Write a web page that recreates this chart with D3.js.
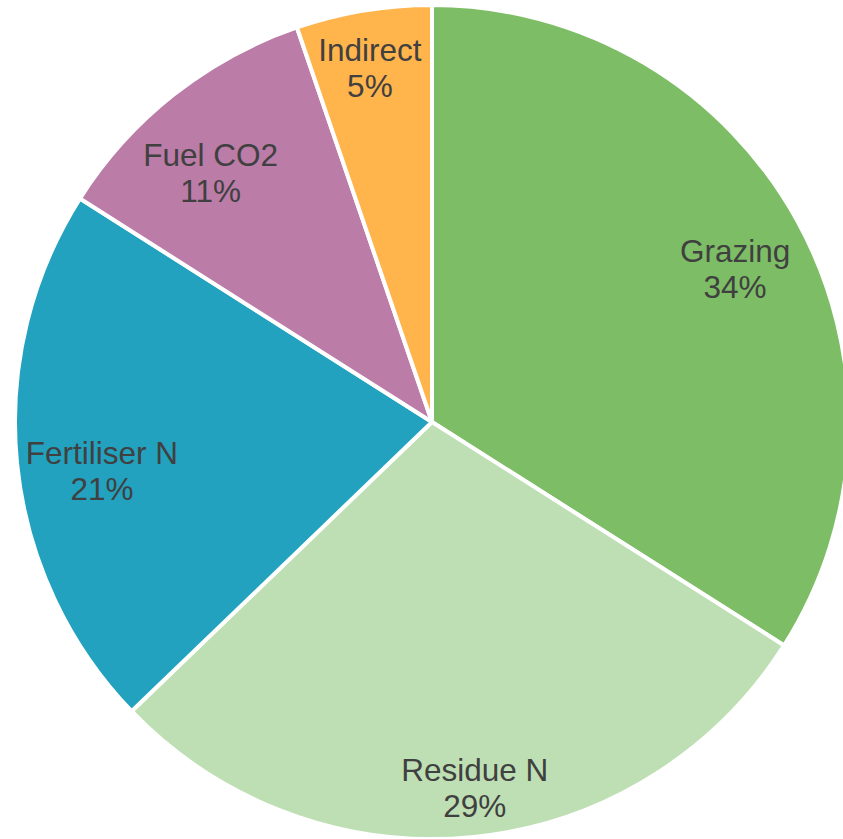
<!DOCTYPE html>
<html>
<head>
<meta charset="utf-8">
<script src="https://cdn.jsdelivr.net/npm/d3@7/dist/d3.min.js"></script>
<style>
  html, body { margin: 0; padding: 0; background: #ffffff; overflow: hidden; }
  svg { display: block; }
</style>
</head>
<body>
<svg id="chart" width="843" height="839"></svg>
<script>
// Data
const categories = ["Grazing", "Residue N", "Fertiliser N", "Fuel CO2", "Indirect"];
const shares = [34.0, 28.8, 21.2, 10.75, 5.25];
const percentLabels = ["34%", "29%", "21%", "11%", "5%"];

// Styling / layout
const colors = ["#7dbd65", "#bddfb3", "#23a2bf", "#bb7ca8", "#ffb44c"];
const labelRadiusFactor = [0.815, 0.884, 0.80, 0.80, 0.862];
const labelAngleShiftDeg = [1.9, -0.9, -2.6, -3.3, -0.5];

const width = 843, height = 839;
const cx = 432, cy = 422, radius = 417;

const svg = d3.select("#chart");
const g = svg.append("g").attr("transform", `translate(${cx},${cy})`);

const pie = d3.pie().sort(null).value(d => d.value);
const data = categories.map((c, i) => ({ name: c, value: shares[i], pct: percentLabels[i], i }));
const arcs = pie(data);

const arc = d3.arc().innerRadius(0).outerRadius(radius);

g.selectAll("path.slice")
  .data(arcs)
  .join("path")
  .attr("class", "slice")
  .attr("d", arc)
  .attr("fill", d => colors[d.data.i])
  .attr("stroke", "#ffffff")
  .attr("stroke-width", 4)
  .attr("stroke-linejoin", "round");

const labels = g.selectAll("text.lbl")
  .data(arcs)
  .join("text")
  .attr("class", "lbl")
  .attr("text-anchor", "middle")
  .attr("font-family", "Liberation Sans, Arial, sans-serif")
  .attr("font-size", 31.5)
  .attr("fill", "#404040")
  .attr("transform", d => {
    const r = radius * labelRadiusFactor[d.data.i];
    const a = (d.startAngle + d.endAngle) / 2 + labelAngleShiftDeg[d.data.i] * Math.PI / 180;
    const x = r * Math.sin(a), y = -r * Math.cos(a);
    return `translate(${x},${y})`;
  });

labels.append("tspan")
  .attr("x", 0)
  .attr("y", -18)
  .attr("dy", "0.358em")
  .text(d => d.data.name);

labels.append("tspan")
  .attr("x", 0)
  .attr("y", 18)
  .attr("dy", "0.358em")
  .text(d => d.data.pct);
</script>
</body>
</html>
